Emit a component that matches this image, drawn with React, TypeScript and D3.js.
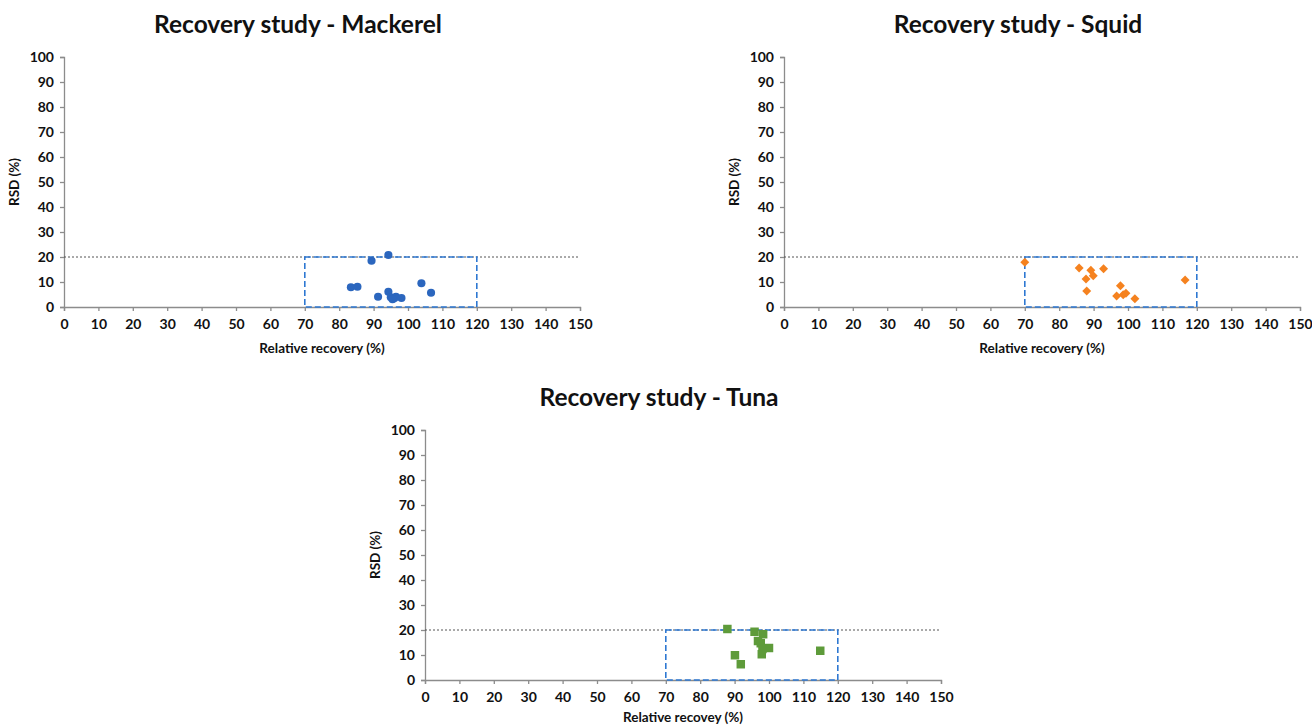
import React, { useEffect, useRef } from "react";
import * as d3 from "d3";

// relative recovery (%) / RSD (%)
const mackerelRecovery = [94.3, 89.4, 83.4, 85.3, 91.3, 94.3, 95.0, 96.0, 96.5, 98.1, 95.5, 103.9, 106.7];
const mackerelRsd = [20.8, 18.5, 7.9, 8.1, 4.1, 6.1, 3.9, 3.5, 4.1, 3.6, 3.1, 9.5, 5.7];

const squidRecovery = [70.0, 85.8, 89.2, 92.9, 87.8, 89.9, 88.0, 97.8, 96.7, 98.6, 99.4, 102.0, 116.6];
const squidRsd = [17.9, 15.6, 14.7, 15.3, 11.2, 12.5, 6.4, 8.5, 4.4, 4.9, 5.5, 3.3, 10.8];

const tunaRecovery = [87.9, 95.8, 98.3, 96.8, 97.6, 100.0, 98.1, 97.9, 90.1, 91.8, 114.9];
const tunaRsd = [20.4, 19.3, 18.3, 15.6, 14.7, 12.8, 12.4, 10.3, 9.9, 6.3, 11.7];

const xTicks = d3.range(0, 151, 10);
const yTicks = d3.range(0, 101, 10);
const rsdLimit = 20;
const acceptRange = [70, 120];

const FONT = "Lato, 'Open Sans', sans-serif";

type PanelProps = {
  x0: number;
  y0: number;
  title: string;
  xLabel: string;
  xs: number[];
  ys: number[];
  color: string;
  symbol: d3.SymbolType;
  size: number;
  rotate?: number;
  xLabelDy?: number;
};

function Panel({ x0, y0, title, xLabel, xs, ys, color, symbol, size, rotate = 0, xLabelDy = 46 }: PanelProps) {
  const ref = useRef<SVGGElement>(null);
  const w = 516;
  const h = 250;

  useEffect(() => {
    const g = d3.select(ref.current);
    g.selectAll("*").remove();

    const x = d3.scaleLinear().domain([0, 150]).range([x0, x0 + w]);
    const y = d3.scaleLinear().domain([0, 100]).range([y0, y0 - h]);

    // x axis
    const xa = g.append("g").attr("transform", `translate(0,${y0})`)
      .call(d3.axisBottom(x).tickValues(xTicks).tickSize(4).tickPadding(8).tickFormat(d3.format("d")));
    // y axis
    const ya = g.append("g").attr("transform", `translate(${x0},0)`)
      .call(d3.axisLeft(y).tickValues(yTicks).tickSize(4).tickPadding(6).tickFormat(d3.format("d")));

    [xa, ya].forEach((a) => {
      a.select(".domain").attr("stroke", "#8c8c8c").attr("stroke-width", 1.3);
      a.selectAll(".tick line").attr("stroke", "#8c8c8c").attr("stroke-width", 1.3);
      a.selectAll(".tick text")
        .attr("fill", "#111")
        .attr("font-family", FONT)
        .attr("font-weight", "bold")
        .attr("font-size", 14);
    });

    // RSD limit line
    g.append("line")
      .attr("x1", x(0)).attr("x2", x(150))
      .attr("y1", y(rsdLimit)).attr("y2", y(rsdLimit))
      .attr("stroke", "#555").attr("stroke-width", 1)
      .attr("stroke-dasharray", "2,2");

    // acceptance box
    g.append("rect")
      .attr("x", x(acceptRange[0]))
      .attr("y", y(rsdLimit))
      .attr("width", x(acceptRange[1]) - x(acceptRange[0]))
      .attr("height", y(0) - y(rsdLimit))
      .attr("fill", "none")
      .attr("stroke", "#2E78D2")
      .attr("stroke-width", 1.6)
      .attr("stroke-dasharray", "6,3");

    const sym = d3.symbol().type(symbol).size(size);
    g.append("g").selectAll("path")
      .data(xs.map((v, i) => [v, ys[i]]))
      .join("path")
      .attr("transform", (d) => `translate(${x(d[0])},${y(d[1])}) rotate(${rotate})`)
      .attr("d", sym as any)
      .attr("fill", color);

    g.append("text")
      .attr("x", x0 + w / 2 - 24).attr("y", y0 - h - 24)
      .attr("text-anchor", "middle")
      .attr("font-family", FONT).attr("font-weight", "bold").attr("font-size", 24.5)
      .attr("fill", "#111")
      .text(title);

    g.append("text")
      .attr("x", x0 + w / 2).attr("y", y0 + xLabelDy)
      .attr("text-anchor", "middle")
      .attr("font-family", FONT).attr("font-weight", "bold").attr("font-size", 13.5)
      .attr("fill", "#111")
      .text(xLabel);

    g.append("text")
      .attr("transform", `translate(${x0 - 45},${y0 - h / 2}) rotate(-90)`)
      .attr("text-anchor", "middle")
      .attr("font-family", FONT).attr("font-weight", "bold").attr("font-size", 13.5)
      .attr("fill", "#111")
      .text("RSD (%)");
  }, [x0, y0, title, xLabel, xs, ys, color, symbol, size, rotate, xLabelDy]);

  return <g ref={ref} />;
}

export default function App() {
  return (
    <svg
      width={1312}
      height={726}
      style={{ position: "absolute", left: 0, top: 0, background: "#fff" }}
    >
      <Panel x0={64} y0={307} title="Recovery study - Mackerel" xLabel="Relative recovery (%)"
        xs={mackerelRecovery} ys={mackerelRsd} color="#2B66BE" symbol={d3.symbolCircle} size={52} />
      <Panel x0={784} y0={307} title="Recovery study - Squid" xLabel="Relative recovery (%)"
        xs={squidRecovery} ys={squidRsd} color="#F5821F" symbol={d3.symbolSquare} size={40} rotate={45} />
      <Panel x0={425} y0={680} title="Recovery study - Tuna" xLabel="Relative recovey (%)"
        xs={tunaRecovery} ys={tunaRsd} color="#5E9B3A" symbol={d3.symbolSquare} size={72} xLabelDy={42} />
    </svg>
  );
}
